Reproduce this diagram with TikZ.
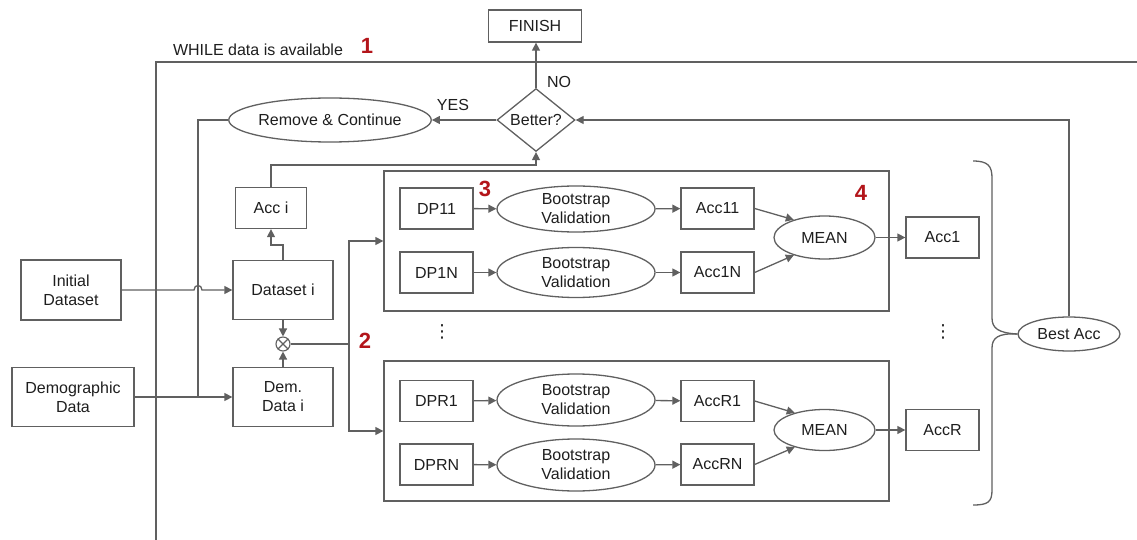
\documentclass[tikz,border=0pt]{standalone}
\usepackage{fontspec}
\setmainfont{Liberation Sans}
\newfontfamily\symfont{DejaVu Sans}
\usetikzlibrary{shapes.geometric,arrows.meta,calc}
\definecolor{ln}{HTML}{606060}
\definecolor{tx}{HTML}{1E1E1E}
\definecolor{rd}{HTML}{B3151A}
\tikzset{
  base/.style={draw=ln,line width=1.3pt,text=tx,font=\fontsize{16}{19}\selectfont,align=center,inner sep=0pt},
  box/.style={base,rectangle,minimum width=73pt,minimum height=41pt},
  oval/.style={base,ellipse},
  grp/.style={draw=ln,line width=1.3pt,rectangle,minimum width=505pt,minimum height=140pt,inner sep=0pt},
  con/.style={draw=ln,line width=1.3pt},
  arr/.style={con,-{Triangle[length=8pt,width=8pt]}},
  num/.style={text=rd,font=\fontsize{22}{22}\selectfont\bfseries,inner sep=0pt},
  lbl/.style={text=tx,font=\fontsize{16}{19}\selectfont,inner sep=0pt},
  dts/.style={text=tx,font=\symfont\fontsize{18}{18}\selectfont,inner sep=0pt}
}
\begin{document}
\begin{tikzpicture}[x=1pt,y=-1pt]
\useasboundingbox (0,0) rectangle (1137,540);
% loop frame
\coordinate (lb) at (156,540);
\coordinate (lt) at (156,62);
\coordinate (rt) at (1137,62);
\draw[con] (lb) -- (lt) -- (rt);
\node[lbl] (while) at (258,50) {WHILE data is available};
\node[num] (n1) at (367,46) {1};
% top part
\node[box,minimum width=93pt,minimum height=32pt] (finish) at (535,26) {FINISH};
\node[base,diamond,minimum width=78pt,minimum height=48pt] (better) at (536,120) {Better?};
\node[oval,minimum width=196pt,minimum height=44pt] (rem) at (330,120) {Remove \& Continue};
\node[lbl] (no) at (559,82) {NO};
\node[lbl] (yes) at (453,105) {YES};
% left part
\node[box,minimum width=71pt] (acci) at (271,208) {Acc i};
\node[box,minimum width=100pt,minimum height=59pt] (ds) at (283,290) {Dataset i};
\node[box,minimum width=100pt,minimum height=60pt] (init) at (71,290) {Initial\\Dataset};
\node[box,minimum width=122pt,minimum height=59pt] (demo) at (73,397) {Demographic\\Data};
\node[box,minimum width=100pt,minimum height=59pt] (dem) at (283,397) {Dem.\\Data i};
\node[draw=ln,line width=1.1pt,circle,minimum size=14pt,inner sep=0pt] (mul) at (283,344) {};
\draw[draw=ln,line width=1.1pt] (mul.north west) -- (mul.south east) (mul.north east) -- (mul.south west);
\node[num] (n2) at (365,341) {2};
% groups
\node[grp] (g1) at (636.5,241) {};
\node[grp] (g2) at (636.5,431) {};
\node[box] (dp11) at (436.5,208.5) {DP11};
\node[oval,minimum width=158pt,minimum height=46pt] (bs11) at (576,209) {Bootstrap\\Validation};
\node[box] (acc11) at (717.5,208.5) {Acc11};
\node[box] (dp1n) at (436.5,272.5) {DP1N};
\node[oval,minimum width=158pt,minimum height=50pt] (bs1n) at (576,272.5) {Bootstrap\\Validation};
\node[box] (acc1n) at (717.5,272.5) {Acc1N};
\node[oval,minimum width=101pt,minimum height=43pt] (mean1) at (824.5,237.5) {MEAN};
\node[box] (acc1) at (942.5,237.5) {Acc1};
\node[num] (n3) at (485,189) {3};
\node[num] (n4) at (861,193) {4};
\node[box] (dpr1) at (436.5,401) {DPR1};
\node[oval,minimum width=158pt,minimum height=52pt] (bsr1) at (576,400) {Bootstrap\\Validation};
\node[box] (accr1) at (717.5,401) {AccR1};
\node[box] (dprn) at (436.5,464.5) {DPRN};
\node[oval,minimum width=158pt,minimum height=52pt] (bsrn) at (576,465) {Bootstrap\\Validation};
\node[box] (accrn) at (717.5,464.5) {AccRN};
\node[oval,minimum width=101pt,minimum height=41pt] (mean2) at (824.5,430) {MEAN};
\node[box] (accr) at (942.5,430) {AccR};
\node[dts] (d1) at (442,332) {⋮};
\node[dts] (d2) at (943,332) {⋮};
\node[oval,minimum width=102pt,minimum height=34pt] (best) at (1069,334) {Best Acc};
% brace
\draw[con] (973,161) .. controls (988,161) and (992,166) .. (992,178) -- (992,318)
  .. controls (992,328) and (998,333) .. (best.west);
\draw[con] (best.west) .. controls (998,333) and (992,338) .. (992,348) -- (992,490)
  .. controls (992,502) and (988,505) .. (973,505);
% connectors
\draw[arr] (better.north) -- (better.north |- finish.south);
\draw[arr] (better.west) -- (rem.east);
\draw[arr] (best.north) |- (better.east);
\coordinate (j) at (198,397);
\draw[con] (rem.west) -| (j);
\coordinate (h1) at (194,290);
\coordinate (h2) at (202,290);
\draw[arr] (init.east) -- (h1) .. controls (194,284) and (202,284) .. (h2) -- (ds.west);
\draw[arr] (demo.east) -- (dem.west);
\draw[arr] (ds.north) -- ++(0,-15) -| (acci.south);
\draw[arr] (acci.north) |- ($(better.south)+(0,13)$) -- (better.south);
\draw[arr] (ds.south) -- (mul.north);
\draw[arr] (dem.north) -- (mul.south);
\coordinate (sp) at (349,344);
\draw[con] (mul.east) -- (sp);
\draw[arr] (sp) |- (g1.west);
\draw[arr] (sp) |- (g2.west);
\draw[arr] (dp11) -- (bs11);
\draw[arr] (bs11) -- (acc11);
\draw[arr] (dp1n) -- (bs1n);
\draw[arr] (bs1n) -- (acc1n);
\draw[arr] (acc11.east) -- (mean1.150);
\draw[arr] (acc1n.east) -- (mean1.210);
\draw[arr] (mean1.east) -- (acc1.west);
\draw[arr] (dpr1) -- (bsr1);
\draw[arr] (bsr1) -- (accr1);
\draw[arr] (dprn) -- (bsrn);
\draw[arr] (bsrn) -- (accrn);
\draw[arr] (accr1.east) -- (mean2.150);
\draw[arr] (accrn.east) -- (mean2.210);
\draw[arr] (mean2.east) -- (accr.west);
\end{tikzpicture}
\end{document}
